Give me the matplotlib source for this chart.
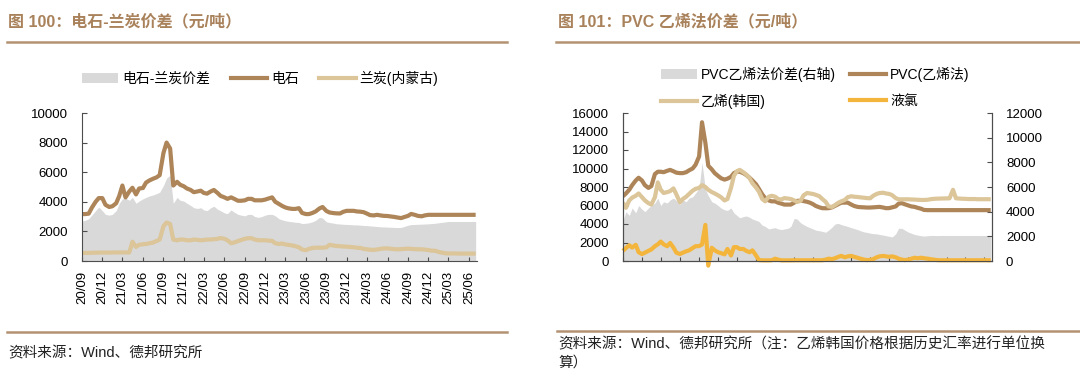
import matplotlib
matplotlib.use('Agg')
import matplotlib.pyplot as plt
from matplotlib.lines import Line2D
from matplotlib.patches import Patch
import pandas as pd

plt.rcParams['font.family'] = ['Liberation Sans', 'Noto Sans CJK SC']
plt.rcParams['axes.unicode_minus'] = False

# semi-monthly sample dates, 2020-09 .. 2025-07
dates = pd.date_range('2020-09-01', '2025-07-01', freq='SMS')
tick_dates = pd.date_range('2020-09-01', '2025-06-01', freq='3MS')

# ---- chart 100: 电石-兰炭价差 ----
dianshi = [3170, 3170, 3200, 3600, 4000, 4250, 4250, 3800, 3650, 3700,
           3900, 4400, 5100, 4300, 4700, 4950, 4500, 4900, 4930, 5300,
           5450, 5550, 5650, 5800, 7300, 8000, 7600, 5100, 5350, 5150,
           5050, 4900, 4800, 4650, 4700, 4750, 4600, 4550, 4700, 4800,
           4600, 4400, 4300, 4200, 4300, 4200, 4070, 4070, 4100, 4200,
           4200, 4100, 4100, 4100, 4150, 4220, 4300, 4000, 3850, 3720,
           3620, 3560, 3520, 3520, 3570, 3250, 3170, 3170, 3250, 3350,
           3550, 3650, 3380, 3280, 3240, 3220, 3210, 3320, 3390, 3390,
           3390, 3350, 3330, 3300, 3200, 3100, 3080, 3120, 3080, 3050,
           3040, 3010, 2980, 2940, 2900, 2970, 3050, 3180, 3120, 3050,
           3020, 3080, 3120, 3120, 3120, 3120, 3120, 3120, 3120, 3120,
           3120, 3120, 3120, 3120, 3120, 3120, 3120]
lantan = [540, 550, 550, 560, 560, 570, 570, 570, 570, 575,
          580, 580, 580, 580, 580, 1300, 950, 1100, 1130, 1150,
          1200, 1240, 1350, 1450, 2350, 2600, 2500, 1450, 1400, 1450,
          1450, 1400, 1400, 1450, 1430, 1400, 1420, 1450, 1450, 1470,
          1500, 1550, 1500, 1400, 1200, 1250, 1350, 1420, 1500, 1540,
          1540, 1450, 1400, 1400, 1400, 1380, 1360, 1200, 1150, 1180,
          1120, 1090, 1050, 1000, 930, 780, 730, 820, 880, 900,
          900, 900, 920, 1090, 1050, 1020, 1000, 980, 970, 950,
          930, 900, 880, 820, 790, 760, 750, 780, 820, 850,
          850, 830, 800, 790, 800, 820, 830, 820, 800, 790,
          790, 770, 740, 700, 690, 620, 560, 520, 510, 510,
          510, 500, 500, 500, 500, 500, 500]
ds_lt_spread = [2700, 2750, 2850, 3100, 3400, 3650, 3400, 3150, 3100, 3150,
                3400, 3900, 4200, 4250, 4100, 4300, 3900, 4050, 4200, 4300,
                4400, 4450, 4550, 4650, 5100, 5600, 5800, 3900, 4300, 4100,
                4050, 3900, 3750, 3600, 3550, 3600, 3450, 3400, 3600, 3700,
                3500, 3400, 3250, 3200, 3450, 3300, 3150, 3100, 3050, 3150,
                3150, 3000, 2950, 3000, 3100, 3150, 3150, 3050, 2850, 2780,
                2720, 2680, 2650, 2620, 2600, 2530, 2550, 2580, 2650, 2750,
                2950, 2900, 2650, 2600, 2560, 2520, 2500, 2480, 2470, 2460,
                2440, 2440, 2420, 2400, 2390, 2370, 2350, 2330, 2310, 2300,
                2290, 2280, 2270, 2260, 2270, 2330, 2420, 2460, 2470, 2480,
                2490, 2500, 2510, 2530, 2550, 2580, 2610, 2640, 2670, 2670,
                2670, 2670, 2670, 2670, 2670, 2670, 2670]

# ---- chart 101: PVC 乙烯法价差 ----
pvc = [7000, 7300, 7700, 8200, 8700, 9000, 8700, 8200, 7900, 8100,
       9400, 9650, 9650, 9600, 9750, 9850, 9700, 9550, 9500, 9500,
       9600, 9800, 10000, 10400, 11300, 15000, 12800, 10300, 9900, 9500,
       9200, 8950, 8800, 8900, 9100, 9500, 9650, 9650, 9500, 9300,
       9000, 8700, 8300, 7800, 7200, 6800, 6550, 6450, 6450, 6300,
       6200, 6100, 6100, 6100, 6300, 6500, 6520, 6480, 6400, 6300,
       6150, 5950, 5800, 5710, 5700, 5710, 5800, 5960, 6150, 6300,
       6310, 6310, 6100, 5950, 5850, 5820, 5800, 5780, 5780, 5800,
       5830, 5850, 5780, 5710, 5720, 5800, 5900, 6200, 6250, 6130,
       6000, 5900, 5850, 5750, 5650, 5520, 5500, 5500, 5500, 5500,
       5500, 5500, 5500, 5500, 5500, 5500, 5500, 5500, 5500, 5500,
       5500, 5500, 5500, 5500, 5500, 5500, 5500]
ethylene_kr = [6300, 5750, 6550, 6850, 7050, 7300, 6900, 6550, 6250, 6100,
               6900, 8500, 7700, 7350, 7450, 7550, 7850, 7200, 6350, 6700,
               6950, 7250, 7600, 7800, 7900, 8200, 8000, 7700, 7450, 7300,
               7100, 6900, 6550, 6700, 7900, 9200, 9700, 9850, 9600, 9350,
               8950, 8400, 7950, 7500, 6700, 6450, 6950, 7050, 6950, 6700,
               6650, 6800, 6750, 6700, 6550, 6380, 6500, 7100, 7350, 7300,
               7250, 7150, 7000, 6700, 6400, 5900, 5850, 6050, 6300, 6450,
               6600, 6900, 7000, 6950, 6920, 6880, 6840, 6800, 6780, 7050,
               7250, 7350, 7380, 7300, 7250, 7120, 6800, 6670, 6670, 6670,
               6670, 6650, 6640, 6620, 6600, 6600, 6620, 6680, 6720, 6740,
               6750, 6760, 6770, 6770, 7700, 6780, 6750, 6730, 6720, 6700,
               6700, 6700, 6680, 6680, 6680, 6680, 6680]
chlorine = [1100, 1400, 1700, 1450, 1750, 950, 750, 900, 1100, 1250,
            1600, 1800, 2100, 1800, 1600, 1950, 1450, 900, 750, 900,
            1050, 1150, 1400, 1600, 1610, 1790, 3900, -500, 1430, 1150,
            950, 850, 720, 1300, 600, 1500, 1500, 1300, 1300, 1100,
            950, 1150, 600, 100, 70, 70, 70, 80, 250, 150,
            70, 70, 70, 70, 80, 80, 80, 80, 80, 80,
            80, 80, 80, 80, 150, 250, 200, 300, 450, 550,
            400, 500, 550, 450, 350, 250, 150, 100, 120, 200,
            400, 500, 550, 500, 450, 500, 400, 250, 150, 100,
            150, 250, 350, 300, 350, 300, 250, 200, 150, 100,
            80, 80, 80, 80, 80, 80, 80, 80, 80, 80,
            80, 80, 80, 80, 80, 80, 80]
pvc_spread = [3300, 4000, 3700, 4300, 3900, 4500, 4200, 4000, 4300, 4500,
              4700, 5100, 4500, 4800, 4700, 4950, 5100, 4900, 4600, 4950,
              4800, 5100, 5200, 5500, 5900, 8000, 5800, 5300, 4800, 4700,
              4500, 4300, 4150, 4100, 4300, 3900, 3700, 3500, 3600, 3650,
              3550, 3400, 3300, 3200, 2900, 2800, 2600, 2650, 2700, 2600,
              2550, 2600, 2650, 2800, 3450, 3400, 3100, 2950, 2800, 2700,
              2600, 2500, 2450, 2400, 2330, 2500, 2750, 3000, 3050, 2950,
              2870, 2800, 2700, 2630, 2550, 2450, 2360, 2320, 2260, 2220,
              2200, 2150, 2100, 2050, 2000, 1950, 2200, 2650, 2650, 2500,
              2340, 2250, 2150, 2100, 2050, 2020, 2050, 2070, 2070, 2060,
              2070, 2070, 2070, 2070, 2070, 2070, 2070, 2070, 2070, 2070,
              2070, 2070, 2070, 2070, 2070, 2070, 2070]

brown = '#ad8558'
tan = '#dbc599'
gray = '#d9d9d9'
orange = '#f4b53c'
title_c = '#a9825b'
rule_c = '#b39274'
axis_c = '#4d4d4d'

W, H = 1080, 384
fig = plt.figure(figsize=(W / 100, H / 100), dpi=100)


def fx(px):
    return px / W


def fy(py):
    return 1 - py / H


def rule(x0, x1, y):
    fig.add_artist(Line2D([fx(x0), fx(x1)], [fy(y), fy(y)], color=rule_c, lw=1.8))


def style_axes(ax, labels):
    ax.set_xlim(pd.Timestamp('2020-09-01'), pd.Timestamp('2025-07-07'))
    ax.set_xticks(tick_dates)
    ax.set_xticklabels(labels, rotation=90)
    ax.tick_params(axis='x', direction='in', length=3, width=0.8, color=axis_c,
                   labelsize=9.5, pad=7)
    ax.tick_params(axis='y', direction='in', length=3.5, width=0.8, color=axis_c,
                   labelsize=9.5, pad=10)
    for s in ax.spines.values():
        s.set_color(axis_c)
        s.set_linewidth(0.8)
    ax.spines['top'].set_visible(False)


# ----- left chart -----
axL = fig.add_axes([fx(82), fy(261), fx(477 - 82), (261 - 113) / H])
axL.fill_between(dates, 0, ds_lt_spread, color=gray, lw=0)
axL.plot(dates, dianshi, color=brown, lw=3, solid_capstyle='butt')
axL.plot(dates, lantan, color=tan, lw=3, solid_capstyle='butt')
axL.set_ylim(0, 10000)
axL.set_yticks(range(0, 10001, 2000))
style_axes(axL, [d.strftime('%y/%m') for d in tick_dates])
axL.spines['right'].set_visible(False)

fig.text(fx(8), fy(22), '图 100：电石-兰炭价差（元/吨）', fontsize=11.5, fontweight='bold',
         color=title_c, va='center', ha='left')
rule(7, 507, 42)
rule(7, 507, 332)
fig.text(fx(8), fy(353), '资料来源：Wind、德邦研究所', fontsize=10.5, color='#222222',
         va='center', ha='left')

hL = [Patch(facecolor=gray, edgecolor='none'),
      Line2D([], [], color=brown, lw=3),
      Line2D([], [], color=tan, lw=3)]
fig.legend(hL, ['电石-兰炭价差', '电石', '兰炭(内蒙古)'], loc='center',
           bbox_to_anchor=(fx(260), fy(78)), ncol=3, frameon=False, fontsize=10,
           handlelength=2.6, handletextpad=0.3, columnspacing=1.5)

# ----- right chart -----
axR = fig.add_axes([fx(623), fy(261), fx(992 - 623), (261 - 113) / H])
axR2 = axR.twinx()
axR2.fill_between(dates, 0, pvc_spread, color=gray, lw=0)
axR2.set_ylim(0, 12000)
axR2.set_yticks(range(0, 12001, 2000))
axR.set_zorder(axR2.get_zorder() + 1)
axR.patch.set_visible(False)

axR.plot(dates, pvc, color=brown, lw=3, solid_capstyle='butt')
axR.plot(dates, ethylene_kr, color=tan, lw=3, solid_capstyle='butt')
axR.plot(dates, chlorine, color=orange, lw=3, solid_capstyle='butt', clip_on=False)
axR.set_ylim(0, 16000)
axR.set_yticks(range(0, 16001, 2000))
style_axes(axR, [d.strftime('%y/%m') if d >= pd.Timestamp('2022-06-01') else ''
                 for d in tick_dates])
style_axes(axR2, [''] * len(tick_dates))
axR2.tick_params(axis='x', length=0)

fig.text(fx(558), fy(22), '图 101：PVC 乙烯法价差（元/吨）', fontsize=11.5, fontweight='bold',
         color=title_c, va='center', ha='left')
rule(556, 1080, 42)
rule(557, 1080, 331)
fig.text(fx(558), fy(344), '资料来源：Wind、德邦研究所（注：乙烯韩国价格根据历史汇率进行单位换',
         fontsize=10.5, color='#222222', va='center', ha='left')
fig.text(fx(558), fy(363), '算）', fontsize=10.5, color='#222222', va='center', ha='left')

hR = [Patch(facecolor=gray, edgecolor='none'),
      Line2D([], [], color=tan, lw=3),
      Line2D([], [], color=brown, lw=3)]
hR.append(Line2D([], [], color=orange, lw=3))
fig.legend(hR, ['PVC乙烯法价差(右轴)', '乙烯(韩国)', 'PVC(乙烯法)', '液氯'], loc='center',
           bbox_to_anchor=(fx(815), fy(88)), ncol=2, frameon=False, fontsize=10,
           handlelength=2.6, handletextpad=0.3, columnspacing=1.0, labelspacing=0.9)

fig.savefig('out.png', dpi=100)
